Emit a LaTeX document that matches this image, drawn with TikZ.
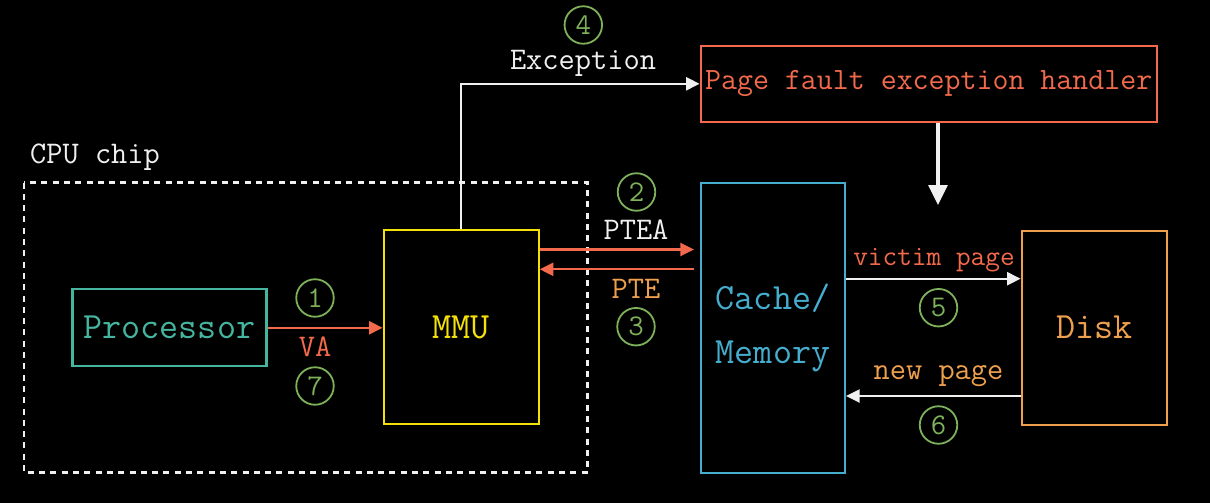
\documentclass[tikz,border=0pt]{standalone}
\usepackage{fontspec}
\usetikzlibrary{arrows.meta}
\definecolor{cteal}{HTML}{45B5A0}
\definecolor{cyell}{HTML}{F5E10A}
\definecolor{cblue}{HTML}{45AECF}
\definecolor{corange}{HTML}{EFA04E}
\definecolor{cred}{HTML}{F26A4B}
\definecolor{cgreen}{HTML}{7DB15A}
\definecolor{cwhite}{HTML}{F0F0F0}
\tikzset{
  box/.style={draw, line width=2.2pt, inner sep=0pt, fill=none, font=\fontsize{37}{44}\selectfont\ttfamily},
  lbl/.style={inner sep=0pt, anchor=base, font=\fontsize{31.5}{38}\selectfont\ttfamily},
  num/.style={circle, draw=cgreen, text=cgreen, line width=1.8pt, minimum size=37.5pt, inner sep=0pt, font=\fontsize{30}{36}\selectfont\ttfamily},
  arr/.style={line width=2.2pt, -{Triangle[length=13.5pt,width=13pt]}},
  bigarr/.style={line width=3.4pt, -{Triangle[length=20pt,width=19pt]}},
}
\begin{document}
\begin{tikzpicture}[x=1pt,y=-1pt]
\fill[black] (0,0) rectangle (1210,503);
\useasboundingbox (0,0) rectangle (1210,503);

% CPU chip dashed frame
\draw[cwhite, line width=2.5pt, dash pattern=on 6pt off 5.3pt] (24,182.5) rectangle (587.5,472.5);
\node[lbl, text=cwhite] (cpu) at (95,163) {CPU chip};

% boxes
\node[box, draw=cteal, text=cteal, minimum width=194pt, minimum height=77pt] (proc) at (169.4,327.8) {Processor};
\node[box, draw=cyell, text=cyell, minimum width=155pt, minimum height=194pt] (mmu) at (461.2,327.3) {MMU};
\node[box, draw=cblue, minimum width=144pt, minimum height=290pt] (cache) at (773,327.8) {};
\node[lbl, text=cblue, font=\fontsize{37}{44}\selectfont\ttfamily] (cacheA) at (773,309.3) {Cache/};
\node[lbl, text=cblue, font=\fontsize{37}{44}\selectfont\ttfamily] (cacheB) at (773,363.3) {Memory};
\node[box, draw=corange, text=corange, minimum width=145pt, minimum height=194pt] (disk) at (1094.2,327.8) {Disk};
\node[box, draw=cred, text=cred, minimum width=456pt, minimum height=76pt, font=\fontsize{31}{38}\selectfont\ttfamily] (handler) at (928.7,83.8) {Page fault exception handler};

% y levels
\coordinate (yPTEA) at (0,249.5);
\coordinate (yPTE) at (0,269.3);
\coordinate (yVic) at (0,278.7);
\coordinate (yNew) at (0,396);
\coordinate (dnEnd) at (938,205);

% connectors
\draw[arr, cred] (proc.east) -- (proc.east -| mmu.west);
\draw[arr, cred, shorten >=6pt] (mmu.east |- yPTEA) -- (cache.west |- yPTEA);
\draw[arr, cred, shorten <=6pt] (cache.west |- yPTE) -- (mmu.east |- yPTE);
\draw[arr, cwhite] (mmu.north) |- (handler.west);
\draw[bigarr, cwhite] (handler.south -| dnEnd) -- (dnEnd);
\draw[arr, cwhite] (cache.east |- yVic) -- (disk.west |- yVic);
\draw[arr, cwhite] (disk.west |- yNew) -- (cache.east |- yNew);

% labels
\node[lbl, text=cwhite] (lexc) at (583,70) {Exception};
\node[lbl, text=cwhite] (lptea) at (636,239.3) {PTEA};
\node[lbl, text=corange] (lpte) at (636,298.3) {PTE};
\node[lbl, text=cred] (lva) at (315,356.7) {VA};
\node[lbl, text=cred, font=\fontsize{28.5}{34}\selectfont\ttfamily] (lvic) at (934,265) {victim page};
\node[lbl, text=corange] (lnew) at (938.5,379.3) {new page};

% step numbers
\node[num] (n1) at (315,298) {1};
\node[num] (n7) at (315,386) {7};
\node[num] (n2) at (636.5,192) {2};
\node[num] (n3) at (636,326.7) {3};
\node[num] (n4) at (583.3,25) {4};
\node[num] (n5) at (938.5,307.7) {5};
\node[num] (n6) at (938.5,425) {6};
\end{tikzpicture}
\end{document}
